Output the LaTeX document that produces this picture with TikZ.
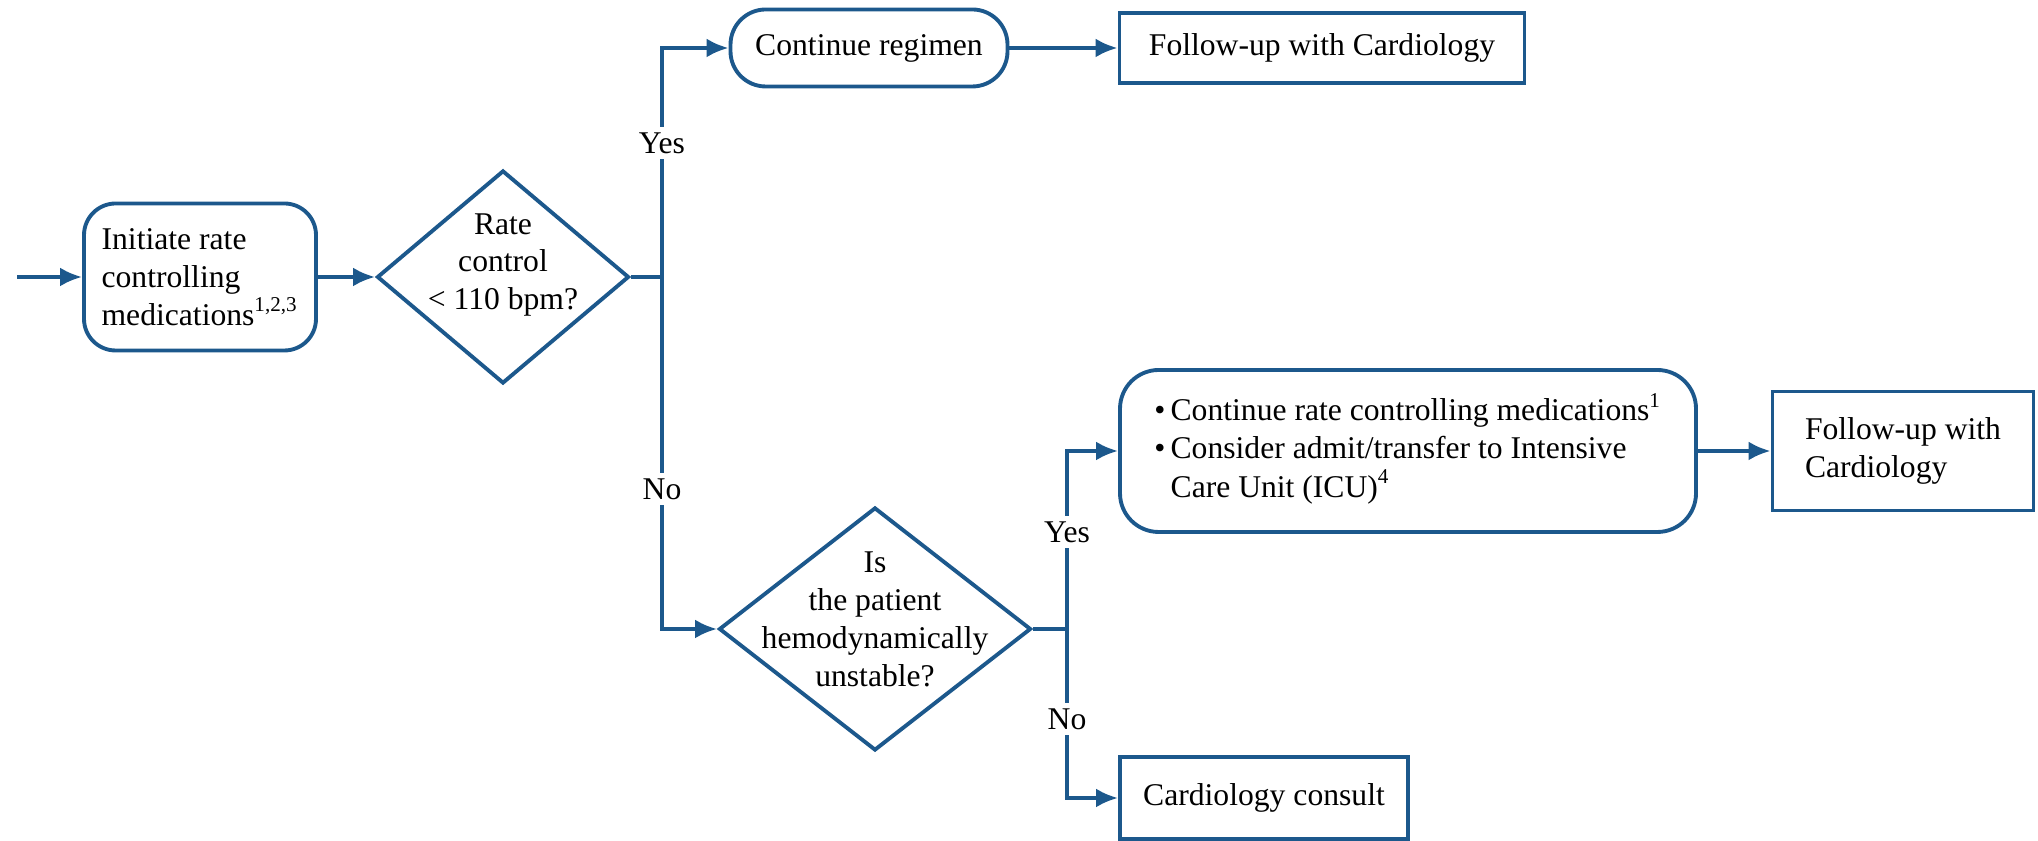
\documentclass[tikz,border=0pt]{standalone}
\usepackage{fontspec}
\setmainfont{Liberation Serif}
\usepackage{tikz}
\usepackage{xcolor}
\usetikzlibrary{positioning,arrows.meta,shapes.geometric,calc}
\definecolor{flowblue}{RGB}{28,88,140}

\begin{document}
\begin{tikzpicture}[
          x=1cm, y=1cm,
          every node/.style={font=\fontsize{9}{10.8}\selectfont},
          rbox/.style={draw=flowblue, line width=1.1pt, rounded corners=9pt, align=left, inner sep=0pt},
          box/.style={draw=flowblue, line width=1.1pt, align=left, inner sep=0pt},
          decision/.style={draw=flowblue, line width=1.1pt, diamond, inner sep=0pt},
          lbl/.style={fill=white, inner sep=1.5pt},
          conn/.style={draw=flowblue, line width=1.1pt},
          arr/.style={conn, -{Latex[length=2.2mm,width=1.9mm]}}
      ]
        \useasboundingbox (0,0) rectangle (20.38,8.41);
        \coordinate (in) at (0.17,5.64);
        \node[rbox, minimum width=2.32cm, minimum height=1.47cm] (init) at (2.00,5.64) {Initiate rate\\controlling\\medications\textsuperscript{1,2,3}};
        \node[decision, minimum width=2.52cm, minimum height=2.13cm,
              label={[align=center, yshift=1.2mm]center:Rate\\control\\< 110 bpm?}] (rate) at (5.03,5.64) {};
        \node[rbox, rounded corners=10pt, minimum width=2.77cm, minimum height=0.77cm] (cont) at (8.69,7.93) {Continue regimen};
        \node[box, minimum width=4.05cm, minimum height=0.70cm] (fu1) at (13.22,7.93) {Follow-up with Cardiology};
        \node[decision, minimum width=3.12cm, minimum height=2.43cm,
              label={[align=center, yshift=1mm]center:Is\\the patient\\hemodynamically\\unstable?}] (unst) at (8.75,2.12) {};
        \node[rbox, rounded corners=11pt, minimum width=5.76cm, minimum height=1.62cm] (icu) at (14.08,3.90) {%
          \begin{tabular}{@{}l@{\,}l@{}}
            \textbullet & Continue rate controlling medications\textsuperscript{1}\\
            \textbullet & Consider admit/transfer to Intensive\\
                        & Care Unit (ICU)\textsuperscript{4}
          \end{tabular}};
        \node[box, minimum width=2.61cm, minimum height=1.19cm] (fu2) at (19.03,3.90) {Follow-up with\\Cardiology};
        \node[box, minimum width=2.88cm, minimum height=0.82cm] (cons) at (12.64,0.43) {Cardiology consult};
        \coordinate (j1) at (6.62,5.64);
        \coordinate (j2) at (10.67,2.12);
        \draw[arr] (in) -- (init);
        \draw[arr] (init) -- (rate);
        \draw[conn] (rate.east) -- (j1);
        \draw[arr] (j1) |- (cont.west);
        \draw[arr] (j1) |- (unst.west);
        \draw[arr] (cont) -- (fu1);
        \draw[conn] (unst.east) -- (j2);
        \draw[arr] (j2) |- (icu.west);
        \draw[arr] (j2) |- (cons.west);
        \draw[arr] (icu) -- (fu2);
        \node[lbl] (yes1) at (6.62,6.98) {Yes};
        \node[lbl] (no1) at (6.62,3.52) {No};
        \node[lbl] (yes2) at (10.67,3.09) {Yes};
        \node[lbl] (no2) at (10.67,1.22) {No};
      \end{tikzpicture}
\end{document}
